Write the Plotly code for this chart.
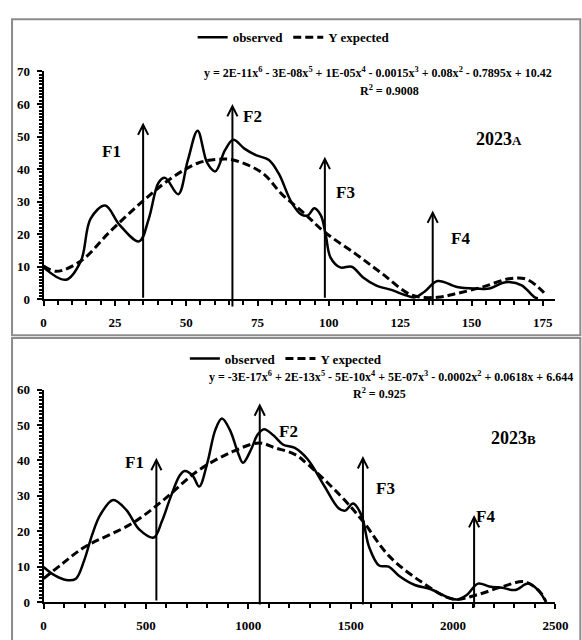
import plotly.graph_objects as go

# ---------------- data: panel 2023A ----------------
a_obs_x = [0, 7.9, 13.1, 16.5, 21.6, 26.7, 33.5, 36.9, 40.3, 42.6, 47.2, 50.6, 54, 57.4, 60.2,
           63.6, 66.5, 70.4, 74.4, 79, 82.5, 86.9, 90.4, 92.7, 94.9, 97.2, 98.9, 100.6, 104, 108,
           111.9, 116.5, 122.2, 126.7, 130.1, 133.5, 138.1, 144.9, 151.7, 156.3, 160.8, 163.1,
           167.6, 172.2, 173.3]
a_obs_y = [9.8, 6.0, 11.8, 24.8, 28.8, 22.8, 17.8, 24.8, 35.8, 37.3, 32.3, 42.8, 51.8, 41.8, 39.3,
           45.8, 49.0, 46.3, 44.3, 42.8, 38.5, 29.8, 26.0, 25.8, 28.0, 25.8, 19.8, 12.8, 9.8, 10.0,
           6.8, 4.3, 2.8, 1.3, 0.6, 2.3, 5.6, 3.8, 3.3, 3.3, 5.0, 5.3, 4.3, 0.6, 0.3]
a_exp_x = [0, 4.5, 13.1, 23.3, 34.6, 44.9, 54, 60.8, 66.5, 76.7, 83.5, 91.5, 98.3, 109.6, 118.8,
           129, 138.1, 144.9, 154, 163.1, 168.8, 173.3, 176.1]
a_exp_y = [10.2, 8.6, 11.8, 20.8, 30.0, 37.3, 41.8, 43.0, 42.8, 38.8, 32.3, 26.3, 20.8, 13.8, 7.8,
           1.3, 0.6, 1.8, 3.8, 6.3, 6.3, 3.8, 1.3]
a_arrow_labels = ["F1", "F2", "F3", "F4"]
a_arrow_x = [34.9, 66.2, 98.6, 136.4]
a_arrow_top = [54.3, 60.0, 43.8, 27.3]
a_arrow_base = [0, -2.7, 0, -2.2]
a_label_x = [23.9, 73.3, 105.7, 146.0]
a_label_y = [45.3, 56.3, 32.8, 18.8]
a_eq = "y = 2E-11x<sup>6</sup> - 3E-08x<sup>5</sup> + 1E-05x<sup>4</sup> - 0.0015x<sup>3</sup> + 0.08x<sup>2</sup> - 0.7895x + 10.42"
a_r2 = "R<sup>2</sup> = 0.9008"
a_tag = "2023<span style='font-size:13px'>A</span>"

# ---------------- data: panel 2023B ----------------
b_obs_x = [0, 55, 111, 158, 198, 238, 277, 340, 404, 467, 538, 578, 618, 665, 689, 728, 760, 800,
           839, 871, 910, 950, 974, 1013, 1045, 1077, 1124, 1171, 1227, 1290, 1370, 1441, 1473,
           1512, 1552, 1591, 1639, 1686, 1734, 1813, 1892, 1971, 2019, 2067, 2122, 2177, 2240,
           2304, 2367, 2415, 2447]
b_obs_y = [9.9, 7.5, 6.2, 6.6, 11.7, 19.1, 24.6, 28.8, 26.0, 20.5, 18.2, 22.8, 29.2, 35.7, 37.0,
           35.7, 32.6, 39.3, 48.6, 51.8, 48.6, 42.1, 39.3, 43.0, 47.2, 48.8, 47.0, 44.4, 43.5, 40.3,
           32.9, 26.5, 25.8, 27.8, 24.6, 15.4, 10.3, 10.0, 7.5, 4.8, 3.6, 1.4, 0.7, 2.0, 5.2, 4.4,
           4.0, 3.4, 5.2, 3.4, 0.7]
b_exp_x = [0, 100, 197, 435, 594, 752, 910, 1053, 1132, 1227, 1290, 1449, 1560, 1686, 1845, 2003,
           2114, 2240, 2352, 2430, 2454]
b_exp_y = [6.6, 11.2, 15.4, 22.3, 29.2, 37.0, 42.1, 44.9, 43.5, 41.7, 38.9, 30.1, 22.8, 13.1, 5.7,
           0.8, 2.0, 4.3, 5.7, 2.5, 0.0]
b_arrow_labels = ["F1", "F2", "F3", "F4"]
b_arrow_x = [551, 1056, 1560, 2103]
b_arrow_top = [40.7, 56.1, 41.2, 24.6]
b_arrow_base = [0, -1.1, -1.1, -2.0]
b_label_x = [443, 1195, 1670, 2161]
b_label_y = [39.3, 48.1, 32.0, 24.2]
b_eq = "y = -3E-17x<sup>6</sup> + 2E-13x<sup>5</sup> - 5E-10x<sup>4</sup> + 5E-07x<sup>3</sup> - 0.0002x<sup>2</sup> + 0.0618x + 6.644"
b_r2 = "R<sup>2</sup> = 0.925"
b_tag = "2023<span style='font-size:13px'>B</span>"

W, H = 582, 640
FONT = "'Liberation Serif', 'Times New Roman', Times, 'DejaVu Serif', serif"


def px(x):
    return x / W


def py(y):
    return 1 - y / H


fig = go.Figure()
solid = dict(color="black", width=2.5, shape="spline", smoothing=1.0)
dashed = dict(color="black", width=3, dash="8px,4px", shape="spline", smoothing=1.0)

fig.add_trace(go.Scatter(x=a_obs_x, y=a_obs_y, mode="lines", name="observed", line=solid,
                         xaxis="x", yaxis="y", legend="legend"))
fig.add_trace(go.Scatter(x=a_exp_x, y=a_exp_y, mode="lines", name="Y expected", line=dashed,
                         xaxis="x", yaxis="y", legend="legend"))
fig.add_trace(go.Scatter(x=b_obs_x, y=b_obs_y, mode="lines", name="observed", line=solid,
                         xaxis="x2", yaxis="y2", legend="legend2"))
fig.add_trace(go.Scatter(x=b_exp_x, y=b_exp_y, mode="lines", name="Y expected", line=dashed,
                         xaxis="x2", yaxis="y2", legend="legend2"))

tickfont = dict(family=FONT, size=13, color="black", weight="bold")
xdom = [px(41.7), px(568)]
axis_common = dict(showline=True, linecolor="black", linewidth=2, showgrid=False, zeroline=False,
                   ticks="outside", tickcolor="black", tickwidth=1.5, tickfont=tickfont,
                   fixedrange=True)

fig.update_layout(
    width=W, height=H, margin=dict(l=0, r=0, t=0, b=0),
    paper_bgcolor="white", plot_bgcolor="white",
    font=dict(family=FONT, color="black"),
    xaxis=dict(domain=xdom, range=[0, 179.4], dtick=25, tick0=0, ticklen=5, anchor="y",
               ticklabelstandoff=5,
               minor=dict(dtick=5, ticklen=4, ticks="outside", tickcolor="black", tickwidth=1.5),
               **axis_common),
    yaxis=dict(domain=[py(299.3), py(66)], range=[0, 70], dtick=10, ticklen=5, anchor="x",
               ticklabelstandoff=4,
               minor=dict(dtick=1, ticklen=3, ticks="outside", tickcolor="black", tickwidth=1.5),
               **axis_common),
    xaxis2=dict(domain=xdom, range=[0, 2500], dtick=500, tick0=0, ticklen=5, anchor="y2",
                ticklabelstandoff=5,
                minor=dict(dtick=100, ticklen=4, ticks="outside", tickcolor="black", tickwidth=1.5),
                **axis_common),
    yaxis2=dict(domain=[py(609.3), py(391.7)], range=[0, 60], dtick=10, ticklen=5, anchor="x2",
                ticklabelstandoff=4,
                minor=dict(dtick=1, ticklen=3, ticks="outside", tickcolor="black", tickwidth=1.5),
                **axis_common),
    legend=dict(orientation="h", x=px(195), y=py(31), xanchor="left", yanchor="middle",
                bgcolor="rgba(0,0,0,0)", font=dict(family=FONT, size=13, color="black", weight="bold"),
                itemwidth=30, tracegroupgap=0),
    legend2=dict(orientation="h", x=px(187), y=py(360), xanchor="left", yanchor="middle",
                 bgcolor="rgba(0,0,0,0)", font=dict(family=FONT, size=13, color="black", weight="bold"),
                 itemwidth=30, tracegroupgap=0),
)

# frames around each panel
fig.add_shape(type="rect", xref="paper", yref="paper", x0=px(9.3), x1=1.02, y0=py(336), y1=py(12.5),
              line=dict(color="#8c8c8c", width=2), layer="below")
fig.add_shape(type="rect", xref="paper", yref="paper", x0=px(9.3), x1=1.02, y0=-0.02, y1=py(339),
              line=dict(color="#8c8c8c", width=2), layer="below")

labfont = dict(family=FONT, size=17, color="black", weight="bold")
eqfont = dict(family=FONT, size=12, color="black", weight="bold")


def add_arrows(xr, yr, xs, tops, bases, labels, lx, ly):
    for x, t, b in zip(xs, tops, bases):
        fig.add_annotation(x=x, y=t, ax=x, ay=b, xref=xr, yref=yr, axref=xr, ayref=yr,
                           text="", showarrow=True, arrowhead=5, arrowsize=1.0, arrowwidth=2,
                           arrowcolor="black", standoff=0, startstandoff=0)
    for lab, x, y in zip(labels, lx, ly):
        fig.add_annotation(x=x, y=y, xref=xr, yref=yr, text=lab, showarrow=False, font=labfont)


add_arrows("x", "y", a_arrow_x, a_arrow_top, a_arrow_base, a_arrow_labels, a_label_x, a_label_y)
add_arrows("x2", "y2", b_arrow_x, b_arrow_top, b_arrow_base, b_arrow_labels, b_label_x, b_label_y)

fig.add_annotation(x=159.7, y=49.3, xref="x", yref="y", text=a_tag, showarrow=False,
                   font=dict(family=FONT, size=18, color="black", weight="bold"))
fig.add_annotation(x=2296, y=46.2, xref="x2", yref="y2", text=b_tag, showarrow=False,
                   font=dict(family=FONT, size=18, color="black", weight="bold"))

fig.add_annotation(x=px(567), y=py(67), xref="paper", yref="paper", xanchor="right", yanchor="middle",
                   text=a_eq, showarrow=False, font=eqfont)
fig.add_annotation(x=px(397), y=py(85), xref="paper", yref="paper", xanchor="center", yanchor="middle",
                   text=a_r2, showarrow=False, font=eqfont)
fig.add_annotation(x=px(210), y=py(378), xref="paper", yref="paper", xanchor="left", yanchor="middle",
                   text=b_eq, showarrow=False, font=eqfont)
fig.add_annotation(x=px(387.5), y=py(396), xref="paper", yref="paper", xanchor="center", yanchor="middle",
                   text=b_r2, showarrow=False, font=eqfont)

fig.write_html("out.html")
